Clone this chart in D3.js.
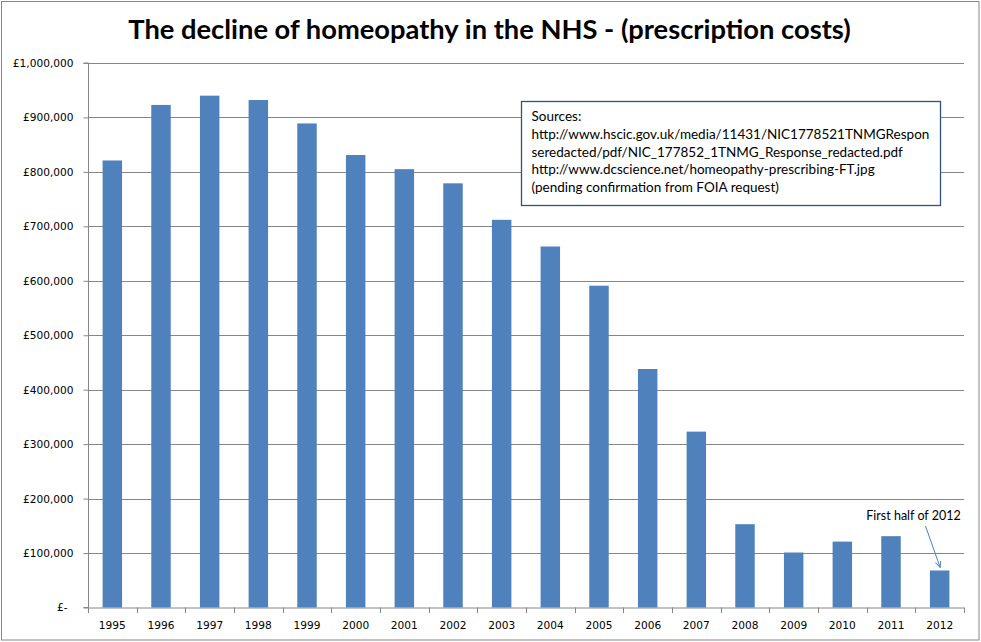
<!DOCTYPE html>
<html>
<head>
<meta charset="utf-8">
<script src="https://cdn.jsdelivr.net/npm/d3@7"></script>
<style>
  body { margin: 0; background: #fff; }
  svg { display: block; }
</style>
</head>
<body>
<div id="chart-container"></div>
<script>
// Chart data
const years = ["1995", "1996", "1997", "1998", "1999", "2000", "2001", "2002", "2003",
  "2004", "2005", "2006", "2007", "2008", "2009", "2010", "2011", "2012"];
const costs = [821000, 923000, 940000, 932000, 889000, 831000, 805000, 779000, 712000,
  663000, 591000, 438000, 323000, 153000, 101000, 121000, 131000, 68000];
const yTicks = [0, 100000, 200000, 300000, 400000, 500000, 600000, 700000, 800000, 900000, 1000000];
const sourceLines = [
  "Sources:",
  "http://www.hscic.gov.uk/media/11431/NIC1778521TNMGRespon",
  "seredacted/pdf/NIC_177852_1TNMG_Response_redacted.pdf",
  "http://www.dcscience.net/homeopathy-prescribing-FT.jpg",
  "(pending confirmation from FOIA request)"
];
const noteText = "First half of 2012";
const noteYear = "2012";

const W = 981, H = 642;
const margin = { top: 63, right: 17, bottom: 34.5, left: 88 };
const width = W - margin.left - margin.right;
const height = H - margin.top - margin.bottom;

const x = d3.scaleBand()
  .domain(years)
  .range([0, width])
  .paddingInner(0.6)
  .paddingOuter(0.3);

const y = d3.scaleLinear()
  .domain([0, 1000000])
  .range([height, 0]);

const root = d3.select("#chart-container")
  .append("svg")
  .attr("width", W)
  .attr("height", H);

// outer chart border
root.append("rect")
  .attr("x", 1.5).attr("y", 1.5)
  .attr("width", W - 3.5).attr("height", H - 3.5)
  .attr("fill", "#fff")
  .attr("stroke", "#868686")
  .attr("stroke-width", 1);

// title
root.append("text")
  .attr("x", 489.5)
  .attr("y", 39)
  .attr("text-anchor", "middle")
  .style("font-family", "Lato, 'Open Sans', sans-serif")
  .style("font-weight", "bold")
  .style("font-size", "27.3px")
  .attr("fill", "#000")
  .text("The decline of homeopathy in the NHS - (prescription costs)");

const svg = root.append("g")
  .attr("transform", `translate(${margin.left},${margin.top})`);

// horizontal gridlines
svg.selectAll(".grid")
  .data(yTicks.slice(1))
  .join("line")
  .attr("class", "grid")
  .attr("x1", 0)
  .attr("x2", width)
  .attr("y1", d => Math.round(y(d)) + 0.5)
  .attr("y2", d => Math.round(y(d)) + 0.5)
  .attr("stroke", "#868686")
  .attr("stroke-width", 1);

// bars
svg.selectAll(".bar")
  .data(costs)
  .join("rect")
  .attr("class", "bar")
  .attr("x", (d, i) => x(years[i]))
  .attr("width", x.bandwidth())
  .attr("y", d => y(d))
  .attr("height", d => height - y(d))
  .attr("fill", "#4F81BD");

// y axis
const yAxis = svg.append("g")
  .attr("transform", "translate(0.5,0)")
  .call(d3.axisLeft(y)
    .tickValues(yTicks)
    .tickSize(5)
    .tickPadding(10)
    .tickFormat(d => d === 0 ? "£-" : "£" + d3.format(",")(d)));
yAxis.selectAll("path, line").attr("stroke", "#868686");
yAxis.select(".domain").attr("d", `M-5,${height}H0V0H-5`);
yAxis.selectAll(".tick text")
  .style("font-family", "'DejaVu Sans', Verdana, sans-serif")
  .style("font-size", "10.6px")
  .attr("fill", "#000")
  .attr("dx", d => d === 0 ? -6 : 0);

// x axis with ticks between categories
const xAxis = svg.append("g")
  .attr("transform", `translate(0,${height})`);
xAxis.append("line")
  .attr("x1", 0).attr("x2", width)
  .attr("y1", 0.5).attr("y2", 0.5)
  .attr("stroke", "#868686");
xAxis.selectAll(".xtick")
  .data(d3.range(years.length + 1))
  .join("line")
  .attr("class", "xtick")
  .attr("x1", i => Math.round(i * x.step()) + 0.5)
  .attr("x2", i => Math.round(i * x.step()) + 0.5)
  .attr("y1", 0)
  .attr("y2", 5.5)
  .attr("stroke", "#868686");
xAxis.selectAll(".xlabel")
  .data(years)
  .join("text")
  .attr("class", "xlabel")
  .attr("x", d => x(d) + x.bandwidth() / 2)
  .attr("y", 21.5)
  .attr("text-anchor", "middle")
  .style("font-family", "'DejaVu Sans', Verdana, sans-serif")
  .style("font-size", "10.6px")
  .attr("fill", "#000")
  .text(d => d);

// sources text box
const box = root.append("g");
box.append("rect")
  .attr("x", 521.5).attr("y", 101.5)
  .attr("width", 419).attr("height", 104)
  .attr("fill", "#fff")
  .attr("stroke", "#2F5283")
  .attr("stroke-width", 1.3);
box.selectAll("text")
  .data(sourceLines)
  .join("text")
  .attr("x", 531.5)
  .attr("y", (d, i) => 121 + i * 17.8)
  .style("font-family", "Lato, 'Open Sans', sans-serif")
  .style("font-size", "13.5px")
  .attr("fill", "#000")
  .text(d => d);

// annotation for the half year
const noteBarX = margin.left + x(noteYear) + x.bandwidth() / 2;
const noteBarY = margin.top + y(costs[years.indexOf(noteYear)]);
root.append("defs").append("marker")
  .attr("id", "arrow")
  .attr("viewBox", "0 0 10 10")
  .attr("refX", 9).attr("refY", 5)
  .attr("markerWidth", 7).attr("markerHeight", 7)
  .attr("orient", "auto")
  .append("path")
  .attr("d", "M0,1L9,5L0,9")
  .attr("fill", "none")
  .attr("stroke", "#4F81BD")
  .attr("stroke-width", 1.4);
root.append("line")
  .attr("x1", 925.5).attr("y1", 526)
  .attr("x2", noteBarX + 0.5).attr("y2", noteBarY - 3)
  .attr("stroke", "#4F81BD")
  .attr("stroke-width", 1)
  .attr("marker-end", "url(#arrow)");
root.append("text")
  .attr("x", 913.5)
  .attr("y", 519.5)
  .attr("text-anchor", "middle")
  .style("font-family", "Lato, 'Open Sans', sans-serif")
  .style("font-size", "12.5px")
  .attr("fill", "#000")
  .text(noteText);
</script>
</body>
</html>
